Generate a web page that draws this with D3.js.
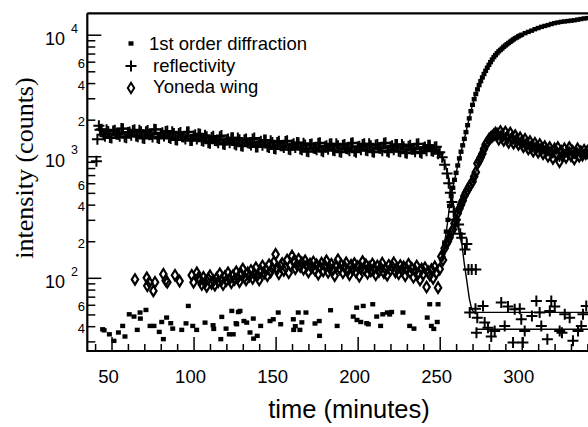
<!DOCTYPE html>
<html>
<head>
<meta charset="utf-8">
<script src="https://cdn.jsdelivr.net/npm/d3@7"></script>
<style>
  body { margin: 0; background: #fff; }
  svg { display: block; }
</style>
</head>
<body>
<svg id="chart" width="588" height="427"></svg>
<script>
// ---- ticks ----
const xMajorTicks = [50, 100, 150, 200, 250, 300];
const xMinorTicks = [40, 60, 70, 80, 90, 110, 120, 130, 140, 160, 170, 180, 190,
  210, 220, 230, 240, 260, 270, 280, 290, 310, 320, 330, 340];
const yMajorTicks = [100, 1000, 10000];
const yMinorTicks = [30, 40, 50, 60, 70, 80, 90, 200, 300, 400, 500, 600, 700, 800, 900,
  2000, 3000, 4000, 5000, 6000, 7000, 8000, 9000];
const yMinorLabels = [[40, "4"], [60, "6"], [200, "2"], [400, "4"], [600, "6"],
  [2000, "2"], [4000, "4"], [6000, "6"]];

// ---- reflectivity (+) ----
const reflEarly = [[40.8, 910], [41.4, 1380], [42.3, 1780], [43, 1650]];
// even minutes 44..250
const reflBandStart = 44, reflBandStep = 2;
const reflBand = [1670, 1460, 1600, 1410, 1640, 1520, 1690, 1440, 1570, 1490,
  1650, 1450, 1590, 1400, 1630, 1510, 1670, 1420, 1540, 1470,
  1610, 1400, 1540, 1360, 1570, 1440, 1580, 1350, 1470, 1390,
  1520, 1330, 1450, 1280, 1460, 1340, 1450, 1260, 1360, 1290,
  1420, 1240, 1370, 1210, 1390, 1280, 1390, 1190, 1300, 1230,
  1360, 1180, 1300, 1150, 1330, 1220, 1320, 1140, 1240, 1180,
  1290, 1130, 1240, 1090, 1260, 1160, 1280, 1110, 1200, 1140,
  1270, 1110, 1220, 1080, 1250, 1150, 1280, 1100, 1190, 1130,
  1270, 1110, 1220, 1080, 1250, 1160, 1280, 1100, 1200, 1130,
  1250, 1090, 1200, 1060, 1230, 1140, 1260, 1080, 1170, 1110,
  1230, 1100, 1200, 1080];
// odd minutes 45..249
const reflBandOddStart = 45;
const reflBandOdd = [1500, 1650, 1430, 1610, 1520, 1460, 1680, 1420, 1580, 1630,
  1470, 1640, 1410, 1590, 1500, 1440, 1660, 1400, 1560, 1600,
  1430, 1590, 1370, 1540, 1450, 1390, 1590, 1350, 1500, 1530,
  1350, 1490, 1290, 1430, 1350, 1290, 1480, 1250, 1390, 1420,
  1260, 1410, 1220, 1370, 1290, 1240, 1410, 1190, 1330, 1360,
  1200, 1340, 1160, 1300, 1220, 1180, 1340, 1130, 1270, 1300,
  1150, 1280, 1100, 1250, 1170, 1130, 1290, 1090, 1220, 1260,
  1120, 1270, 1090, 1230, 1160, 1110, 1290, 1080, 1210, 1250,
  1120, 1270, 1090, 1240, 1170, 1110, 1290, 1080, 1220, 1250,
  1100, 1250, 1070, 1210, 1140, 1090, 1270, 1060, 1190, 1230,
  1110, 1190, 1050];
const reflDrop = [[251.5, 980], [253, 850], [254.5, 720], [255.5, 600], [256.5, 500],
  [257.5, 420], [258.5, 350], [259.5, 300], [261.5, 275], [262.5, 230], [263.4, 214],
  [265.4, 171], [266.5, 190], [267.5, 117], [269.5, 117], [272, 117]];
const reflLate = [[268.3, 51.8], [271.8, 55.7], [272.4, 35.4], [272.9, 47], [276.4, 58.7],
  [277.4, 42.8], [279.4, 38.9], [281.4, 32.9], [283.5, 36.6], [287.5, 62.6], [289.6, 40.2],
  [291.6, 58], [294.7, 29.4], [295.7, 55.1], [298.8, 55.7], [299.7, 45.6], [300.7, 29.4],
  [301.8, 36.6], [306.2, 48.6], [308.9, 64.6], [310.9, 51.8], [311.9, 40.2], [315.6, 31.3],
  [317.1, 53.4], [318, 64.6], [320.1, 58], [323.1, 36.6], [324.5, 35.4], [326.2, 50.1],
  [329.2, 47], [331.2, 30.3], [334.3, 36.6], [336.3, 40.2], [337.3, 50.1], [339.3, 58.7]];
const reflFit = [[240, 1160], [248, 1150], [252, 980], [255, 720], [258, 430], [260, 310],
  [262, 230], [263.5, 190], [265, 130], [266.5, 95], [268, 68], [269.5, 55], [271, 52], [350, 52]];
const reflFloor = [[272, 37.7], [350, 37.7]];

// ---- 1st order diffraction (squares) ----
const diffScatter = [[44.6, 37.7], [45.5, 37], [48.7, 34.3], [51.5, 30.3], [54.2, 35.5],
  [56.8, 40.2], [58.2, 32.9], [60.8, 50.1], [63.7, 48], [65.7, 37.3], [67.4, 51.8],
  [67.6, 46.2], [71, 54.4], [73.5, 40.2], [75.9, 40.2], [79.1, 35.9], [80.6, 43.3],
  [81.6, 31.3], [83.6, 47.1], [86.1, 42.3], [87.3, 38.2], [92.8, 37.3], [95.4, 42.2],
  [96.8, 58.7], [99.5, 40.2], [101.9, 37.3], [107, 42.8], [111.9, 40.7], [112.3, 38],
  [116.6, 31.3], [117.2, 47.7], [119.8, 38.2], [121.8, 34.3], [123.3, 53.4], [124.2, 34.3],
  [125.9, 42.3], [126.3, 41.5], [127.3, 52.3], [128.3, 53.4], [130.7, 44.1], [132.4, 42.8],
  [134.4, 35.5], [136.4, 46.2], [136.6, 31.6], [138.8, 33.3], [140.9, 40.2], [146.6, 44.1],
  [148.6, 45.6], [151.6, 51.8], [153.1, 41.5], [160.8, 45.6], [161, 37.3], [162, 40],
  [163.8, 51.8], [164.8, 37.3], [166, 43], [168.5, 51.8], [174, 42.1], [176.6, 44.1],
  [176.8, 33.3], [183.5, 54.1], [187.5, 40.2], [197.3, 48], [199.4, 56.8], [199.6, 45],
  [201.9, 43.3], [203.4, 58.7], [205.5, 42.3], [206.5, 41.5], [209.2, 60.6], [211.6, 48],
  [214, 40.2], [215.3, 50.1], [218.1, 51.8], [219.5, 50], [220.7, 52.3], [227.6, 51.8],
  [231.7, 40.2], [234.3, 38.2], [242.4, 47.1], [243.9, 60.6], [244.9, 40.2], [246.4, 38],
  [248.5, 43.3], [249, 60.6]];
const diffRise = [[252, 160], [253, 195], [254, 240], [255, 300], [256, 390], [257, 470],
  [258, 550], [259, 640], [260, 730], [261, 840], [262, 960], [263, 1090], [264, 1230],
  [265, 1390], [266, 1580], [267, 1800], [268, 2050], [269, 2350], [270, 2650], [271, 2950],
  [272, 3250], [273, 3550], [274, 3850], [275, 4150], [276, 4450], [277, 4750], [278, 5050],
  [279, 5350], [280, 5650], [281, 5950], [282, 6250], [283, 6550], [284, 6800], [285, 7050],
  [286, 7300], [287, 7500], [288, 7700], [289, 7950], [290, 8150], [291, 8350], [292, 8550],
  [293, 8750], [294, 8950], [295, 9150], [296, 9350], [297, 9500], [298, 9700], [299, 9850],
  [300, 10000], [302, 10300], [304, 10550], [306, 10800], [308, 11100], [310, 11350],
  [312, 11600], [314, 11800], [316, 12000], [318, 12250], [320, 12450], [322, 12600],
  [324, 12750], [326, 12850], [328, 12950], [330, 13050], [332, 13150], [334, 13300],
  [336, 13450], [338, 13600], [340, 13700], [342, 13800], [344, 13900]];

// ---- Yoneda wing (diamonds) ----
const yonedaEarly = [[64.3, 97], [71.5, 100], [71.8, 86], [73, 92], [75.5, 78], [76.5, 92],
  [81.6, 107], [83, 95], [84, 92], [88.7, 105], [91.5, 94], [98.9, 105], [100, 92],
  [102, 110], [103, 100]];
const yonedaBandStart = 104, yonedaBandStep = 1;
const yonedaBand = [96, 88, 101, 92, 85, 98, 104, 90, 95, 87,
  99, 93, 108, 96, 88, 102, 95, 110, 98, 91,
  104, 97, 112, 100, 93, 107, 118, 101, 96, 110,
  103, 115, 99, 108, 121, 105, 96, 113, 125, 109,
  117, 104, 128, 112, 120, 135, 156, 118, 108, 125,
  131, 115, 122, 140, 110, 127, 151, 136, 119, 128,
  142, 124, 133, 118, 138, 126, 112, 130, 121, 135,
  116, 128, 107, 123, 132, 114, 126, 138, 111, 120,
  129, 117, 104, 125, 141, 119, 128, 110, 123, 133,
  115, 106, 127, 118, 131, 112, 124, 103, 120, 136,
  117, 128, 109, 122, 114, 130, 119, 106, 125, 113,
  121, 132, 110, 118, 105, 127, 116, 124, 133, 112,
  119, 108, 126, 115, 123, 104, 117, 129, 111, 120,
  101, 114, 125, 109, 96, 118, 107, 121, 84, 112,
  105, 117, 99, 123, 110, 83, 118];
const yonedaRise = [[251, 150], [252, 140], [253, 175], [254, 190], [255, 200], [256, 215],
  [257, 235], [258, 250], [259, 280], [260, 300], [261, 340], [262, 370], [263, 400],
  [264, 430], [265, 470], [266, 500], [267, 530], [268, 560], [269, 590], [270, 620],
  [271, 680], [272, 740], [273, 870], [274, 920], [275, 980], [276, 1050], [277, 1150],
  [278, 1250], [279, 1300], [280, 1380], [281, 1420], [282, 1460], [283, 1500], [284, 1550]];
const yonedaLateStart = 285, yonedaLateStep = 1;
const yonedaLate = [1520, 1380, 1600, 1450, 1350, 1580, 1420, 1300, 1550, 1400,
  1280, 1480, 1350, 1250, 1420, 1300, 1200, 1380, 1250, 1150,
  1320, 1200, 1100, 1280, 1180, 1080, 1250, 1150, 1050, 1200,
  1120, 1000, 1180, 1080, 960, 1150, 1050, 1180, 900, 1100,
  1020, 1150, 980, 1080, 1180, 1010, 1100, 950, 1070, 1150,
  1000, 1090, 1020, 1120, 1050, 1100, 1030, 1080];

// ---- build point lists ----
const reflPoints = reflEarly
  .concat(reflBand.map((v, i) => [reflBandStart + i * reflBandStep, v]))
  .concat(reflBandOdd.map((v, i) => [reflBandOddStart + i * reflBandStep, v]))
  .concat(reflDrop, reflLate);
const diffPoints = diffScatter.concat(diffRise);
const yonedaTail = yonedaLate.map((v, i) => [yonedaLateStart + i * yonedaLateStep, v]);
const yonedaPoints = yonedaEarly
  .concat(yonedaBand.map((v, i) => [yonedaBandStart + i * yonedaBandStep, v]))
  .concat(yonedaRise, yonedaTail);

const svg = d3.select("#chart");
const plotLeft = 87.3, plotTop = 13.3, plotBottom = 351;

const x = d3.scaleLinear().domain([35.25, 350]).range([plotLeft, plotLeft + (350 - 35.25) * 1.641]);
const y = d3.scaleLog().domain([25, 15000]).range([plotBottom, plotTop]);

const sans = "'Liberation Sans', Arial, sans-serif";

// ---- lines ----
const line = d3.line().x(d => x(d[0])).y(d => y(d[1]));
const lineG = svg.append("g").attr("fill", "none").attr("stroke", "#000").attr("stroke-width", 1.4);
[reflFit, reflFloor, diffRise, yonedaRise.concat(yonedaTail)].forEach(arr => {
  lineG.append("path").attr("d", line(arr));
});

// ---- markers ----
const diamond = "M0,-5.2L3.2,0L0,5.2L-3.2,0Z";
const plus = "M-5.5,0H5.5M0,-5.5V5.5";

svg.append("g").selectAll("path")
  .data(yonedaPoints)
  .enter()
  .append("path")
  .attr("transform", d => `translate(${x(d[0])},${y(d[1])})`)
  .attr("d", diamond)
  .attr("fill", "none")
  .attr("stroke", "#000")
  .attr("stroke-width", 2.2);

svg.append("g").selectAll("path")
  .data(reflPoints)
  .enter()
  .append("path")
  .attr("transform", d => `translate(${x(d[0])},${y(d[1])})`)
  .attr("d", plus)
  .attr("stroke", "#000")
  .attr("stroke-width", 2);

svg.append("g").selectAll("rect")
  .data(diffPoints)
  .enter()
  .append("rect")
  .attr("x", d => x(d[0]) - 2.5)
  .attr("y", d => y(d[1]) - 2.2)
  .attr("width", 5)
  .attr("height", 4.4)
  .attr("fill", "#000");

// ---- axes ----
const xMajor = svg.append("g")
  .attr("transform", `translate(0,${plotBottom})`)
  .call(d3.axisBottom(x).tickValues(xMajorTicks).tickSizeInner(-14).tickSizeOuter(0).tickPadding(19));
const xMinor = svg.append("g")
  .attr("transform", `translate(0,${plotBottom})`)
  .call(d3.axisBottom(x).tickValues(xMinorTicks).tickSizeInner(-7).tickSizeOuter(0).tickFormat(""));
[xMajor, xMinor].forEach(g => {
  g.select(".domain").remove();
  g.selectAll("line").attr("stroke-width", 1.5);
});
xMajor.selectAll("text")
  .attr("dx", -3.5)
  .style("font-family", sans)
  .style("font-size", "18.5px");

const yMajor = svg.append("g")
  .attr("transform", `translate(${plotLeft},0)`)
  .call(d3.axisLeft(y).tickValues(yMajorTicks).tickSizeInner(-14).tickSizeOuter(0).tickFormat(""));
const yMinor = svg.append("g")
  .attr("transform", `translate(${plotLeft},0)`)
  .call(d3.axisLeft(y).tickValues(yMinorTicks).tickSizeInner(-8).tickSizeOuter(0).tickFormat(""));
[yMajor, yMinor].forEach(g => {
  g.select(".domain").remove();
  g.selectAll("line").attr("stroke-width", 1.5);
});

// 10^n labels
const expLabels = svg.append("g").style("font-family", sans);
yMajorTicks.forEach(v => {
  expLabels.append("text")
    .attr("x", 65)
    .attr("y", y(v) + 10.5)
    .attr("text-anchor", "end")
    .style("font-size", "18px")
    .text("10");
  expLabels.append("text")
    .attr("x", 71)
    .attr("y", y(v) - 2)
    .style("font-size", "12.5px")
    .text(Math.round(Math.log10(v)));
});
yMinorLabels.forEach(d => {
  expLabels.append("text")
    .attr("x", 85)
    .attr("y", y(d[0]) + 6.5)
    .attr("text-anchor", "end")
    .style("font-size", "13px")
    .text(d[1]);
});

// frame
svg.append("path")
  .attr("d", `M${plotLeft},${plotTop}V${plotBottom}H588M${plotLeft},${plotTop}H588`)
  .attr("fill", "none")
  .attr("stroke", "#000")
  .attr("stroke-width", 2.2);

// ---- titles ----
svg.append("text")
  .attr("x", 349)
  .attr("y", 418)
  .attr("text-anchor", "middle")
  .style("font-family", sans)
  .style("font-size", "25.5px")
  .text("time (minutes)");

svg.append("text")
  .attr("transform", "translate(32.5,168) rotate(-90)")
  .attr("text-anchor", "middle")
  .style("font-family", "'Liberation Serif', 'Times New Roman', serif")
  .style("font-size", "26px")
  .text("intensity (counts)");

// ---- legend ----
const legend = svg.append("g").style("font-family", sans).style("font-size", "18.5px");
legend.append("rect").attr("x", 128.5).attr("y", 41.3).attr("width", 5).attr("height", 4.4);
legend.append("text").attr("x", 149).attr("y", 50).text("1st order diffraction");
legend.append("path").attr("transform", "translate(131,66)").attr("d", plus)
  .attr("stroke", "#000").attr("stroke-width", 2);
legend.append("text").attr("x", 153).attr("y", 71.5).text("reflectivity");
legend.append("path").attr("transform", "translate(131,88)").attr("d", diamond)
  .attr("fill", "#fff").attr("stroke", "#000").attr("stroke-width", 2);
legend.append("text").attr("x", 153).attr("y", 93.3).text("Yoneda wing");
</script>
</body>
</html>
